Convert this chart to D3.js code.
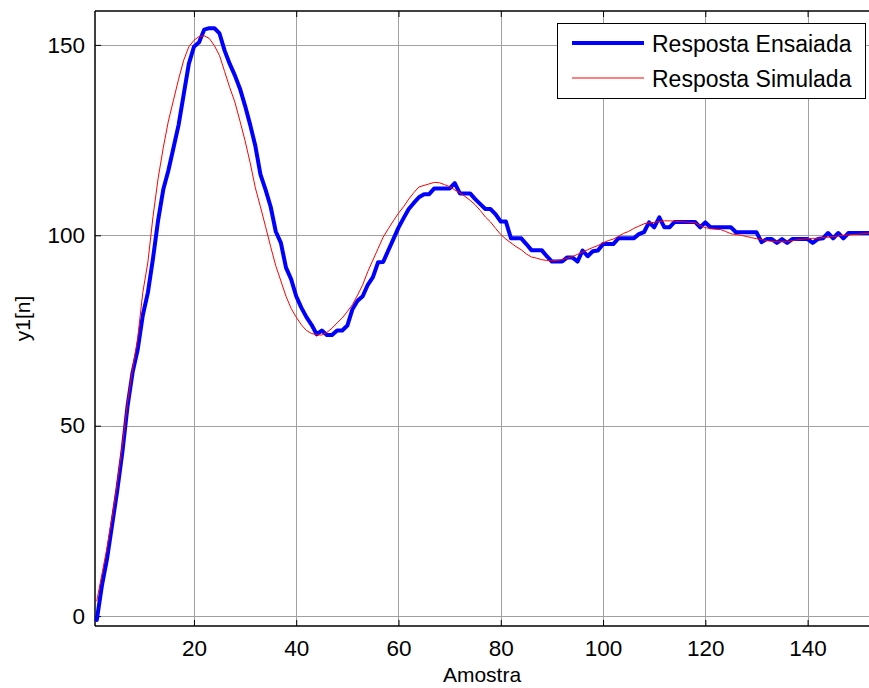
<!DOCTYPE html>
<html>
<head>
<meta charset="utf-8">
<script src="https://cdn.jsdelivr.net/npm/d3@7"></script>
<style>
  html, body { margin: 0; padding: 0; background: #fff; }
  svg { display: block; }
  text { font-family: Arial, "Liberation Sans", sans-serif; fill: #000; }
</style>
</head>
<body>
<svg id="chart" width="869" height="688"></svg>
<script>
// Measured step response (samples 1..152)
const measured = [
  -1, 8, 15, 24, 33, 43, 55, 64, 70, 79,
  85, 94, 104, 112, 117, 123, 129, 137, 145, 149.5,
  150.7, 154, 154.4, 154.4, 153, 148.5, 145, 142, 138.5, 134,
  129, 123.5, 116, 112, 107.5, 101, 98, 91.5, 88.5, 84,
  81, 78.5, 76.5, 74, 75, 73.8, 73.8, 75, 75, 76.3,
  80.6, 82.8, 84, 87, 89, 92.9, 93, 96, 99, 102,
  104.5, 106.9, 108.5, 110, 110.8, 110.8, 112.3, 112.3, 112.3, 112.3,
  113.7, 111, 111, 111, 109.5, 108.2, 106.9, 106.9, 105.5, 103.6,
  103.6, 99.2, 99.2, 99.2, 97.7, 96.1, 96.1, 96.1, 94.5, 93.1,
  93.1, 93.1, 94.2, 94.2, 93.1, 96, 94.5, 95.8, 96, 97.7,
  97.7, 97.7, 99.2, 99.2, 99.2, 99.2, 100.3, 100.8, 103.4, 102.1,
  104.7, 102.1, 102.1, 103.5, 103.5, 103.5, 103.5, 103.5, 102.1, 103.4,
  102.1, 102.1, 102.1, 102.1, 102.1, 100.8, 100.8, 100.8, 100.8, 100.8,
  98.2, 99, 99, 98, 99, 98, 99, 99, 99, 99,
  98, 99, 99.2, 100.6, 99.2, 100.6, 99.2, 100.6, 100.6, 100.6,
  100.6, 100.6
];

// Simulated model response (samples 1..152)
const simulated = [
  4, 11, 18, 26, 35, 45, 56, 65, 73, 85,
  93, 105, 115, 123, 130, 135.5, 141, 146, 149.5, 151.2,
  152.2, 152.4, 151.7, 149.8, 147.2, 143, 138.8, 135, 130, 124.8,
  119, 112.5, 107.5, 102.3, 97, 92, 88, 84, 80.8, 78.5,
  76.5, 75, 74.2, 73.9, 73.8, 74.5, 75.6, 77, 78.3, 80,
  81.8, 84.3, 87, 90.5, 93.5, 96.5, 99.5, 101.7, 103.8, 105.8,
  107.5, 109.5, 111.2, 112.7, 113.1, 113.5, 113.9, 113.8, 113.3, 112.8,
  111.9, 111.2, 110.2, 109.2, 108, 106.5, 104.8, 103.5, 101.8, 100.2,
  99, 98, 97, 96.2, 95.1, 94.3, 94, 93.6, 93.4, 93.3,
  93.4, 93.6, 94, 94.4, 95, 95.6, 96.2, 96.8, 97.3, 98,
  98.6, 99, 99.7, 100.5, 101, 101.8, 102.4, 103, 103.3, 103.4,
  103.6, 103.8, 103.8, 103.7, 103.6, 103.5, 103.4, 103.3, 102.6, 102,
  101.8, 101.6, 101.5, 101, 100.4, 100.2, 100, 99.7, 99.4, 99.1,
  98.9, 98.6, 98.4, 98.3, 98.3, 98.3, 98.6, 98.8, 99, 99.1,
  99.2, 99.2, 99.4, 99.5, 99.7, 99.8, 100, 100.1, 100.2, 100.3,
  100.4, 100.6
];

const xTicks = [20, 40, 60, 80, 100, 120, 140];
const yTicks = [0, 50, 100, 150];
const seriesNames = ["Resposta Ensaiada", "Resposta Simulada"];
const seriesColors = ["#0000ff", "#ff0000"];
const seriesWidths = [4, 1];

const svg = d3.select("#chart");
const plotL = 95, plotR = 871, plotT = 11, plotB = 626;

const x = d3.scaleLinear().domain([0.65, 152.4]).range([plotL, plotR]);
const y = d3.scaleLinear().domain([-2.6, 158.9]).range([plotB, plotT]);

// background
svg.append("rect").attr("width", 869).attr("height", 688).attr("fill", "#fff");

// grid
const grid = svg.append("g").attr("stroke", "#a0a0a0").attr("stroke-width", 1);
xTicks.forEach(t => {
  const px = Math.round(x(t)) + 0.5;
  grid.append("line").attr("x1", px).attr("x2", px).attr("y1", plotT).attr("y2", plotB);
});
yTicks.forEach(t => {
  const py = Math.round(y(t)) + 0.5;
  grid.append("line").attr("x1", plotL).attr("x2", plotR).attr("y1", py).attr("y2", py);
});

// axes (ticks pointing inward)
const xAxisB = d3.axisBottom(x).tickValues(xTicks).tickSize(-6).tickPadding(14);
const xAxisT = d3.axisTop(x).tickValues(xTicks).tickSize(-6).tickFormat("");
const yAxisL = d3.axisLeft(y).tickValues(yTicks).tickSize(-6).tickPadding(10);

function styleAxis(g) {
  g.select(".domain").remove();
  g.selectAll(".tick line").attr("stroke", "#000");
  g.selectAll(".tick text").attr("font-size", 22.5).attr("font-family", "Arial, 'Liberation Sans', sans-serif");
}

svg.append("g").attr("transform", `translate(0,${plotB})`).call(xAxisB).call(styleAxis);
svg.append("g").attr("transform", `translate(0,${plotT})`).call(xAxisT).call(styleAxis);
svg.append("g").attr("transform", `translate(${plotL},0)`).call(yAxisL).call(styleAxis);

// frame
const frame = svg.append("g").attr("stroke", "#000").attr("stroke-width", 1.5);
frame.append("line").attr("x1", plotL).attr("x2", plotR).attr("y1", plotT).attr("y2", plotT);
frame.append("line").attr("x1", plotL).attr("x2", plotR).attr("y1", plotB).attr("y2", plotB);
frame.append("line").attr("x1", plotL).attr("x2", plotL).attr("y1", plotT).attr("y2", plotB);

// series
const line = d3.line().x((d, i) => x(i + 1)).y(d => y(d));
[measured, simulated].forEach((data, k) => {
  svg.append("path").datum(data)
    .attr("d", line)
    .attr("fill", "none")
    .attr("stroke", seriesColors[k])
    .attr("stroke-width", seriesWidths[k])
    .attr("stroke-linejoin", "round")
    .attr("stroke-linecap", "round");
});

// axis labels
svg.append("text").attr("x", (plotL + 869) / 2).attr("y", 682)
  .attr("text-anchor", "middle").attr("font-size", 21).text("Amostra");
svg.append("text").attr("transform", `translate(30,${(plotT + plotB) / 2}) rotate(-90)`)
  .attr("text-anchor", "middle").attr("font-size", 21).text("y1[n]");

// legend
const lg = svg.append("g");
lg.append("rect").attr("x", 557.5).attr("y", 23.5).attr("width", 308).attr("height", 75)
  .attr("fill", "#fff").attr("stroke", "#000").attr("stroke-width", 1);
const rowsY = [43, 78];
seriesNames.forEach((name, k) => {
  lg.append("line").attr("x1", 572).attr("x2", 644).attr("y1", rowsY[k]).attr("y2", rowsY[k])
    .attr("stroke", seriesColors[k]).attr("stroke-width", seriesWidths[k]);
  lg.append("text").attr("x", 652).attr("y", rowsY[k] + 9).attr("font-size", 23).text(name);
});
</script>
</body>
</html>
